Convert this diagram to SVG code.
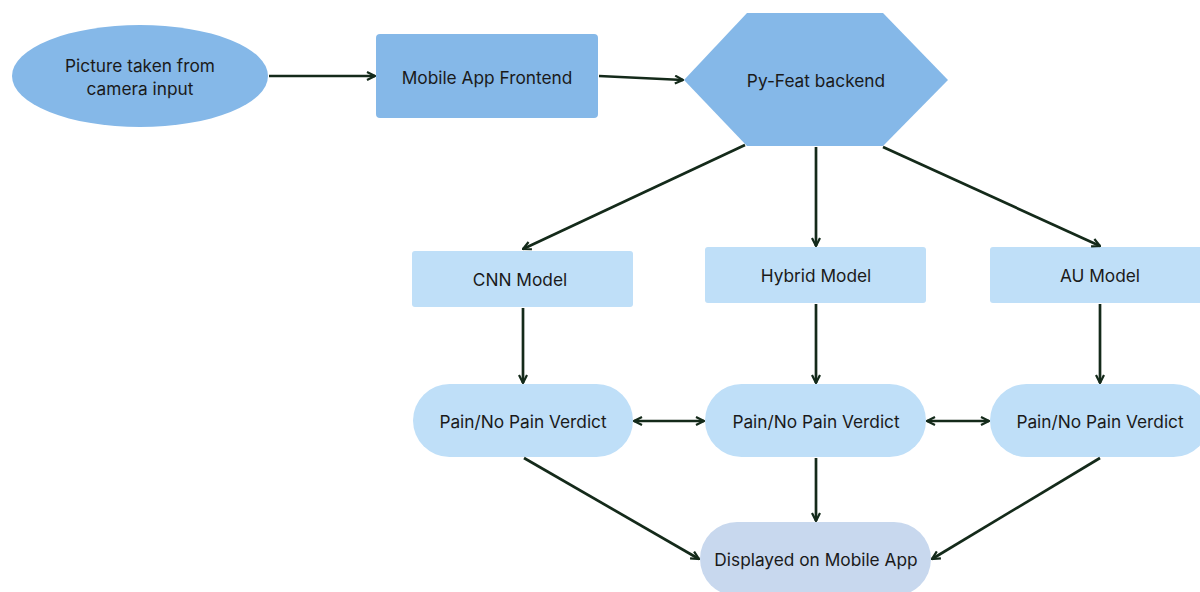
<svg xmlns="http://www.w3.org/2000/svg" width="1200" height="592" viewBox="0 0 1200 592">
<style>
.dark{fill:#85b8e8}
.light{fill:#bfdff8}
.disp{fill:#c8d8ee}
text{font-family:Inter,"Open Sans",sans-serif;font-size:17.3px;fill:#1a1a1a;text-anchor:middle;dominant-baseline:central}
.c line{stroke:#142a1a;stroke-width:2.7;fill:none}
</style>
<defs>
<marker id="ah" viewBox="0 0 10 10" refX="9" refY="5" markerWidth="10" markerHeight="10" markerUnits="userSpaceOnUse" orient="auto-start-reverse">
<path d="M1,1 L9,5 L1,9" fill="none" stroke="#142a1a" stroke-width="2.2"/>
</marker>
</defs>
<rect width="1200" height="592" fill="#ffffff"/>
<g id="picture"><ellipse class="dark" cx="140" cy="76" rx="128" ry="51"/><text x="140" y="65">Picture taken from</text><text x="140" y="88">camera input</text></g>
<g id="frontend"><rect class="dark" x="376" y="34" width="222" height="84" rx="4"/><text x="487" y="77">Mobile App Frontend</text></g>
<g id="backend"><polygon class="dark" points="684,80 747,13 883,13 948,80 883,146 747,146"/><text x="816" y="80">Py-Feat backend</text></g>
<g id="cnn"><rect class="light" x="412" y="251" width="221" height="56" rx="3"/><text x="520" y="279">CNN Model</text></g>
<g id="hybrid"><rect class="light" x="705" y="247" width="221" height="56" rx="3"/><text x="816" y="275">Hybrid Model</text></g>
<g id="au"><rect class="light" x="990" y="247" width="220" height="56" rx="3"/><text x="1100" y="275">AU Model</text></g>
<g id="v1"><rect class="light" x="413" y="384" width="220" height="73" rx="36.5"/><text x="523" y="421">Pain/No Pain Verdict</text></g>
<g id="v2"><rect class="light" x="705" y="384" width="221" height="73" rx="36.5"/><text x="816" y="421">Pain/No Pain Verdict</text></g>
<g id="v3"><rect class="light" x="990" y="384" width="220" height="73" rx="36.5"/><text x="1100" y="421">Pain/No Pain Verdict</text></g>
<g id="display"><rect class="disp" x="700" y="522" width="231" height="74" rx="37"/><text x="816" y="559">Displayed on Mobile App</text></g>
<g class="c" id="connectors">
<line x1="269" y1="76" x2="375" y2="76" marker-end="url(#ah)"/>
<line x1="599" y1="76" x2="683" y2="80" marker-end="url(#ah)"/>
<line x1="745" y1="145" x2="523" y2="249" marker-end="url(#ah)"/>
<line x1="816" y1="147" x2="816" y2="246" marker-end="url(#ah)"/>
<line x1="883" y1="147" x2="1100" y2="246" marker-end="url(#ah)"/>
<line x1="523" y1="308" x2="523" y2="383" marker-end="url(#ah)"/>
<line x1="816" y1="304" x2="816" y2="383" marker-end="url(#ah)"/>
<line x1="1100" y1="304" x2="1100" y2="383" marker-end="url(#ah)"/>
<line x1="634" y1="421" x2="704" y2="421" marker-start="url(#ah)" marker-end="url(#ah)"/>
<line x1="927" y1="421" x2="989" y2="421" marker-start="url(#ah)" marker-end="url(#ah)"/>
<line x1="524" y1="458" x2="699" y2="559" marker-end="url(#ah)"/>
<line x1="816" y1="458" x2="816" y2="521" marker-end="url(#ah)"/>
<line x1="1100" y1="458" x2="932" y2="559" marker-end="url(#ah)"/>
</g>
</svg>
